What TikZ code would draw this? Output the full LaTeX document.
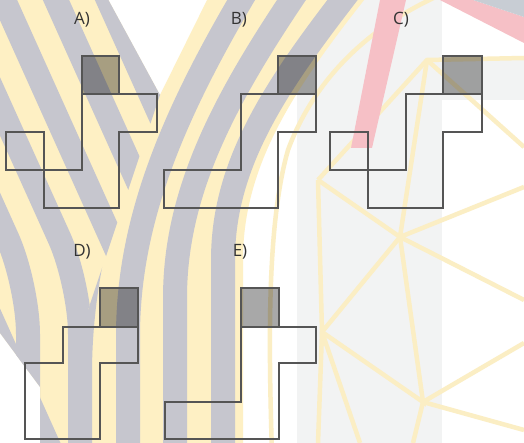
\documentclass[tikz,border=0pt]{standalone}
\usepackage{fontspec}
\setmainfont{Open Sans}
\begin{document}
\begin{tikzpicture}[x=1pt,y=-1pt]
\definecolor{stripegray}{RGB}{198,198,206}
\definecolor{stripeyel}{RGB}{254,240,196}
\definecolor{bandgray}{RGB}{242,243,243}
\definecolor{geoyel}{RGB}{251,238,196}
\definecolor{pinkband}{RGB}{246,192,198}
\definecolor{blugray}{RGB}{200,205,212}
\definecolor{outlinecol}{RGB}{85,85,85}
\tikzset{
 lane/.style={stripegray, line width=24pt},
 geo/.style={geoyel, line width=4.5pt},
 piece/.style={draw=outlinecol, line width=1.1pt, line join=miter},
 keysq/.style={draw=outlinecol, line width=1.1pt, fill=black, fill opacity=0.34},
 lbl/.style={font=\fontsize{17}{17}\selectfont, text=black!80, inner sep=0pt},
}
\useasboundingbox (0,0) rectangle (524,443);
\fill[white] (0,0) rectangle (524,443);
% light background bands
\fill[bandgray] (297,0) rectangle (442,443);
\fill[bandgray] (442,60) rectangle (524,100);
% geodesic watermark
\coordinate (N1) at (318,180);
\coordinate (N2) at (427,60);
\coordinate (HUB) at (400,237);
\coordinate (V2) at (322,332);
\coordinate (V3) at (423,402);
\draw[geo] (N1) -- (N2) -- (524,58);
\draw[geo] (N2) -- (524,147);
\draw[geo] (N1) -- (HUB) -- (N2);
\draw[geo] (N1) -- (V2) -- (HUB);
\draw[geo] (HUB) -- (524,187);
\draw[geo] (HUB) -- (524,300);
\draw[geo] (HUB) -- (V3) -- (V2);
\draw[geo] (V3) -- (524,343);
\draw[geo] (V3) -- (524,430);
\draw[geo] (V3) -- (413,443);
\draw[geo] (V2) -- (318,443);
\draw[geo] (V2) -- (360,443);
\draw[geo] (272,453) .. controls (268,330) and (268,220) .. (288,150) .. controls (312,85) and (362,30) .. (440,-5);
% pink bands
\fill[pinkband] (380,0) -- (406,0) -- (372,148) -- (351,148) -- cycle;
\fill[pinkband] (440,0) -- (473,0) -- (524,17) -- (524,43) -- cycle;
\fill[blugray] (473,0) -- (524,0) -- (524,17) -- cycle;
% striped Y
\begin{scope}
\clip (-10,-10) -- (103,-10) -- (160,95) -- (212,-10) -- (380,-20) .. controls (300,80) and (243,160) .. (243,260) -- (243,453) -- (40,453) -- (40,387) -- (0,333) -- (-10,333) -- cycle;
\fill[stripeyel] (-10,-30) rectangle (534,453);
\begin{scope}
\clip (-10,-30) -- (160,-30) -- (160,95) -- (88,310) -- (88,453) -- (-10,453) -- cycle;
\foreach \a in {108,56,4,-152,-204,-256} \draw[lane] (\a-9,-20) -- (\a+207,460);
\draw[lane, rounded corners=50pt] (-57,-20) -- (80,284) -- (80,460);
\draw[lane, rounded corners=50pt] (-109,-20) -- (28,284) -- (28,460);
\end{scope}
\begin{scope}
\clip (160,-30) -- (534,-30) -- (534,453) -- (88,453) -- (88,310) -- (160,95) -- cycle;
\draw[lane] (201,-20) .. controls (123,123) and (80,246) .. (80,374) -- (80,460);
\draw[lane] (253,-20) .. controls (176,108) and (128,217) .. (128,336) -- (128,460);
\draw[lane] (305,-20) .. controls (227,94) and (175,189) .. (175,298) -- (175,460);
\draw[lane] (358,-20) .. controls (280,80) and (223,160) .. (223,260) -- (223,460);
\end{scope}
\end{scope}
% A
\draw[keysq] (82,56) rectangle (119,94);
\draw[piece] (82,94) -- (157,94) -- (157,132) -- (119,132) -- (119,208) -- (44,208) -- (44,170) -- (6,170) -- (6,132) -- (44,132) -- (44,170) -- (82,170) -- cycle;
% B
\draw[keysq] (278,56) rectangle (316,94);
\draw[piece] (241,94) -- (316,94) -- (316,132) -- (278,132) -- (278,208) -- (164,208) -- (164,170) -- (241,170) -- cycle;
% C
\draw[keysq] (443,56) rectangle (482,94);
\draw[piece] (406,94) -- (482,94) -- (482,132) -- (443,132) -- (443,208) -- (368,208) -- (368,170) -- (330,170) -- (330,132) -- (368,132) -- (368,170) -- (406,170) -- cycle;
% D
\draw[keysq] (100,288) rectangle (138,327);
\draw[piece] (63,327) -- (138,327) -- (138,363) -- (100,363) -- (100,439) -- (25,439) -- (25,363) -- (63,363) -- cycle;
% E
\draw[keysq] (241,288) rectangle (279,327);
\draw[piece] (241,327) -- (316,327) -- (316,363) -- (279,363) -- (279,439) -- (165,439) -- (165,402) -- (241,402) -- cycle;
% labels
\node[lbl] (labA) at (82,20) {A)};
\node[lbl] (labB) at (239,20) {B)};
\node[lbl] (labC) at (401,20) {C)};
\node[lbl] (labD) at (82,252) {D)};
\node[lbl] (labE) at (240,252) {E)};
\end{tikzpicture}
\end{document}
